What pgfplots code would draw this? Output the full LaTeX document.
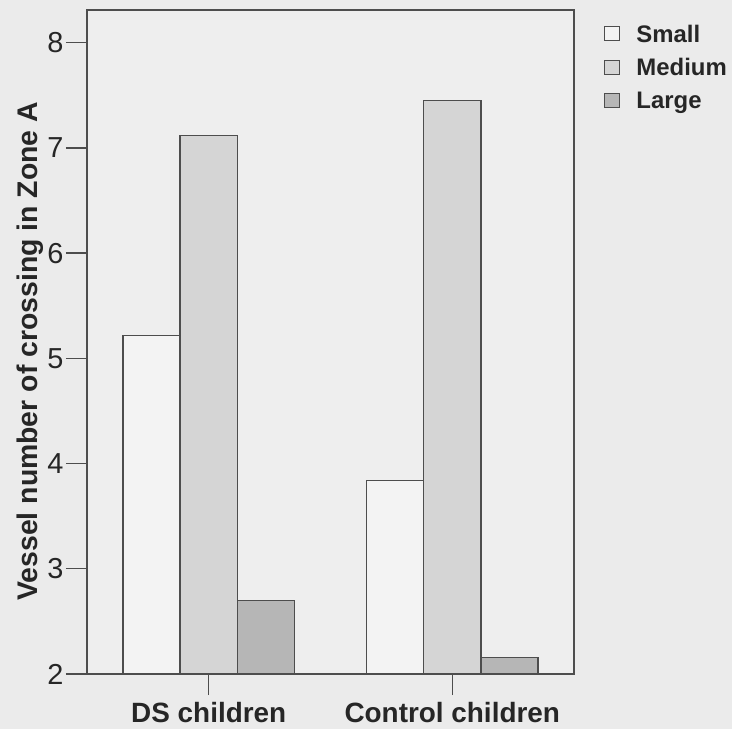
\documentclass[border=0pt]{standalone}
\usepackage{fontspec}
\setmainfont{Liberation Sans}
\usepackage{pgfplots}
\pgfplotsset{compat=1.18}

\definecolor{bg}{HTML}{EBEBEB}
\definecolor{plotbg}{HTML}{EEEEEE}
\definecolor{edge}{HTML}{4D4D4D}
\definecolor{csmall}{HTML}{F3F3F3}
\definecolor{cmedium}{HTML}{D5D5D5}
\definecolor{clarge}{HTML}{B6B6B6}

\begin{document}
\begin{tikzpicture}
  \fill[bg] (0,0) rectangle (732bp,729bp);
  \begin{axis}[
    at={(87bp,55bp)}, anchor=south west,
    scale only axis,
    width=487bp, height=664bp,
    xmin=-0.5, xmax=1.5,
    ymin=2, ymax=8.31,
    axis background/.style={fill=plotbg},
    axis line style={draw=edge, line width=1.4bp},
    xtick={0,1},
    xticklabels={DS children, Control children},
    ytick={2,3,4,5,6,7,8},
    xtick pos=bottom, ytick pos=left,
    tick align=outside,
    major tick length=21bp,
    tick style={draw=edge, line width=1.4bp},
    /pgf/number format/assume math mode=true,
    yticklabel style={font=\fontsize{29}{31}\selectfont, text=black!85, xshift=1bp},
    xticklabel style={font=\fontsize{28}{30}\selectfont\bfseries, text=black!85, yshift=-4bp},
    ylabel={Vessel number of crossing in Zone A},
    ylabel style={font=\fontsize{28.5}{31}\selectfont\bfseries, text=black!85,
      at={(axis description cs:-0.117,0.486)}, anchor=center},
    legend style={at={(axis description cs:1.056,0.984)}, anchor=north west,
      draw=none, fill=none,
      font=\fontsize{24}{27}\selectfont\bfseries, text=black!85,
      row sep=11bp, column sep=14bp},
    legend cell align=left,
    legend image code/.code={\draw[#1, line width=1bp] (0bp,-6bp) rectangle (15bp,8bp);},
  ]
    \addplot[ybar, bar width=0.235, bar shift=-0.235, fill=csmall, draw=edge, line width=1.3bp]
      coordinates {(0,5.22) (1,3.84)};
    \addplot[ybar, bar width=0.235, bar shift=0, fill=cmedium, draw=edge, line width=1.3bp]
      coordinates {(0,7.12) (1,7.45)};
    \addplot[ybar, bar width=0.235, bar shift=0.235, fill=clarge, draw=edge, line width=1.3bp]
      coordinates {(0,2.70) (1,2.155)};
    \legend{Small, Medium, Large}
  \end{axis}
  \pgfresetboundingbox
  \useasboundingbox (0,0) rectangle (732bp,729bp);
\end{tikzpicture}
\end{document}
